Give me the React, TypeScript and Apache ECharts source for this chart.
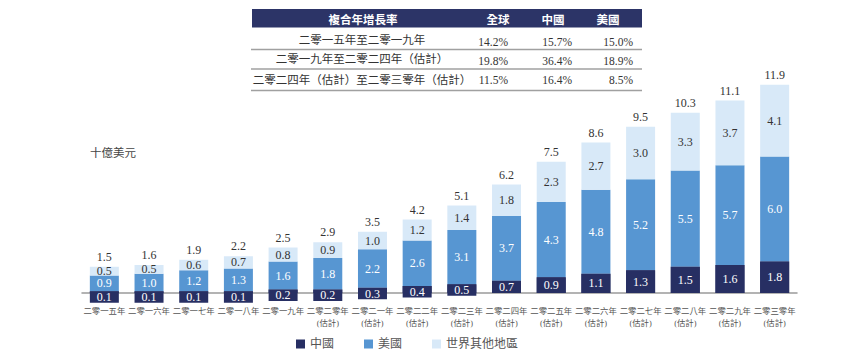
import React, { useEffect, useRef } from "react";
import * as echarts from "echarts";

const categories = [
  "二零一五年", "二零一六年", "二零一七年", "二零一八年", "二零一九年",
  "二零二零年\n(估計)", "二零二一年\n(估計)", "二零二二年\n(估計)", "二零二三年\n(估計)",
  "二零二四年\n(估計)", "二零二五年\n(估計)", "二零二六年\n(估計)", "二零二七年\n(估計)",
  "二零二八年\n(估計)", "二零二九年\n(估計)", "二零三零年\n(估計)",
];
const chinaValues = [0.1, 0.1, 0.1, 0.1, 0.2, 0.2, 0.3, 0.4, 0.5, 0.7, 0.9, 1.1, 1.3, 1.5, 1.6, 1.8];
const usValues = [0.9, 1.0, 1.2, 1.3, 1.6, 1.8, 2.2, 2.6, 3.1, 3.7, 4.3, 4.8, 5.2, 5.5, 5.7, 6.0];
const otherValues = [0.5, 0.5, 0.6, 0.7, 0.8, 0.9, 1.0, 1.2, 1.4, 1.8, 2.3, 2.7, 3.0, 3.3, 3.7, 4.1];
const totalValues = [1.5, 1.6, 1.9, 2.2, 2.5, 2.9, 3.5, 4.2, 5.1, 6.2, 7.5, 8.6, 9.5, 10.3, 11.1, 11.9];

const seriesNames = ["中國", "美國", "世界其他地區"];
const unitLabel = "十億美元";

const cagrHeaders = ["複合年增長率", "全球", "中國", "美國"];
const cagrPeriods = [
  "二零一五年至二零一九年",
  "二零一九年至二零二四年（估計）",
  "二零二四年（估計）至二零三零年（估計）",
];
const cagrGlobal = [14.2, 19.8, 11.5];
const cagrChina = [15.7, 36.4, 16.4];
const cagrUS = [15.0, 18.9, 8.5];

const DARK = "#272f63";
const MID = "#5796d2";
const LIGHT = "#d8e9f8";
const HEADER = "#2c3467";
const SERIF = "'Liberation Serif', 'Noto Sans CJK TC', serif";
const SANS = "'Noto Sans CJK TC', 'Noto Sans', sans-serif";
const BAR_W = 29;
const MIN_H = 11.5;

export default function App() {
  const ref = useRef<HTMLDivElement>(null);
  useEffect(() => {
    if (!ref.current) return;
    const chart = echarts.init(ref.current, null, { renderer: "svg" });

    const tableGraphics: any[] = [];
    tableGraphics.push({
      type: "rect",
      shape: { x: 252, y: 9, width: 390, height: 18.5 },
      style: { fill: HEADER },
    });
    const headerX = [363, 498, 553, 608];
    cagrHeaders.forEach((h, i) => {
      tableGraphics.push({
        type: "text",
        x: headerX[i],
        y: 18.5,
        style: {
          text: h, fill: "#ffffff", fontSize: 11.5, fontWeight: "bold",
          fontFamily: SANS, align: "center", verticalAlign: "middle",
        },
      });
    });
    const rowY = [40, 59, 80];
    const valY = [42, 61, 80];
    const lineY = [49.5, 69, 90.5];
    const colRight = [508, 572, 633];
    const cols = [cagrGlobal, cagrChina, cagrUS];
    cagrPeriods.forEach((p, r) => {
      tableGraphics.push({
        type: "text",
        x: 362,
        y: rowY[r],
        style: {
          text: p, fill: "#333333", fontSize: 11.5, fontFamily: SERIF,
          align: "center", verticalAlign: "middle",
        },
      });
      cols.forEach((col, c) => {
        tableGraphics.push({
          type: "text",
          x: colRight[c],
          y: valY[r],
          style: {
            text: col[r].toFixed(1) + "%", fill: "#333333", fontSize: 11.5,
            fontFamily: SERIF, align: "right", verticalAlign: "middle",
          },
        });
      });
      tableGraphics.push({
        type: "line",
        shape: { x1: 251, y1: lineY[r], x2: 642, y2: lineY[r] },
        style: { stroke: "#a0a0a0", lineWidth: 1.5 },
      });
    });
    tableGraphics.push({
      type: "text",
      x: 90,
      y: 153,
      style: {
        text: unitLabel, fill: "#444444", fontSize: 11.5, fontFamily: SERIF,
        align: "left", verticalAlign: "middle",
      },
    });

    chart.setOption({
      animation: false,
      grid: { left: 82, right: 67, top: 83, bottom: 71, containLabel: false },
      legend: {
        data: seriesNames.map((n) => ({ name: n, icon: "rect" })),
        left: 296,
        top: 338,
        padding: 0,
        itemWidth: 9,
        itemHeight: 9,
        itemGap: 30,
        textStyle: { fontSize: 12, color: "#555555", fontFamily: SERIF },
        selectedMode: false,
      },
      xAxis: {
        type: "category",
        data: categories,
        axisLine: { lineStyle: { color: "#9a9a9a", width: 1.5 } },
        axisTick: { show: false },
        axisLabel: {
          interval: 0,
          fontSize: 8.4,
          lineHeight: 12.5,
          margin: 12,
          color: "#555555",
          fontFamily: SERIF,
        },
      },
      yAxis: {
        type: "value",
        min: 0,
        max: 12,
        show: false,
        splitLine: { show: false },
      },
      graphic: tableGraphics,
      series: [
        {
          name: seriesNames[0],
          type: "bar",
          stack: "total",
          barWidth: BAR_W,
          data: chinaValues,
          itemStyle: { color: DARK },
        },
        {
          name: seriesNames[1],
          type: "bar",
          stack: "total",
          barWidth: BAR_W,
          data: usValues,
          itemStyle: { color: MID },
          label: {
            show: true, position: "inside", color: "#ffffff", fontSize: 12,
            fontFamily: SERIF, formatter: (p: any) => p.value.toFixed(1),
          },
        },
        {
          name: seriesNames[2],
          type: "bar",
          stack: "total",
          barWidth: BAR_W,
          data: otherValues,
          itemStyle: { color: LIGHT },
          label: {
            show: true, position: "inside", color: "#333333", fontSize: 12,
            fontFamily: SERIF, formatter: (p: any) => p.value.toFixed(1),
          },
        },
        {
          name: seriesNames[0],
          type: "custom",
          z: 5,
          data: chinaValues.map((v, i) => [i, v]),
          encode: { x: 0, y: 1 },
          renderItem: (params: any, api: any) => {
            const idx = api.value(0);
            const v = api.value(1);
            const top = api.coord([idx, v]);
            const base = api.coord([idx, 0]);
            const h = Math.max(base[1] - top[1], MIN_H);
            return {
              type: "group",
              children: [
                {
                  type: "rect",
                  shape: { x: top[0] - BAR_W / 2, y: top[1], width: BAR_W, height: h },
                  style: { fill: DARK },
                },
                {
                  type: "text",
                  x: top[0],
                  y: top[1] + h / 2,
                  style: {
                    text: v.toFixed(1), fill: "#ffffff", fontSize: 12,
                    fontFamily: SERIF, align: "center", verticalAlign: "middle",
                  },
                },
              ],
            };
          },
        },
        {
          name: "total",
          type: "custom",
          z: 5,
          data: totalValues.map((t, i) => [i, chinaValues[i] + usValues[i] + otherValues[i], t]),
          encode: { x: 0, y: 1 },
          renderItem: (params: any, api: any) => {
            const idx = api.value(0);
            const pos = api.coord([idx, api.value(1)]);
            return {
              type: "text",
              x: pos[0],
              y: pos[1] - 4,
              style: {
                text: Number(api.value(2)).toFixed(1), fill: "#333333", fontSize: 12,
                fontFamily: SERIF, align: "center", verticalAlign: "bottom",
              },
            };
          },
        },
      ],
    });
    return () => chart.dispose();
  }, []);
  return (
    <div
      ref={ref}
      style={{ position: "fixed", left: 0, top: 0, width: 864, height: 364, background: "#ffffff" }}
    />
  );
}
